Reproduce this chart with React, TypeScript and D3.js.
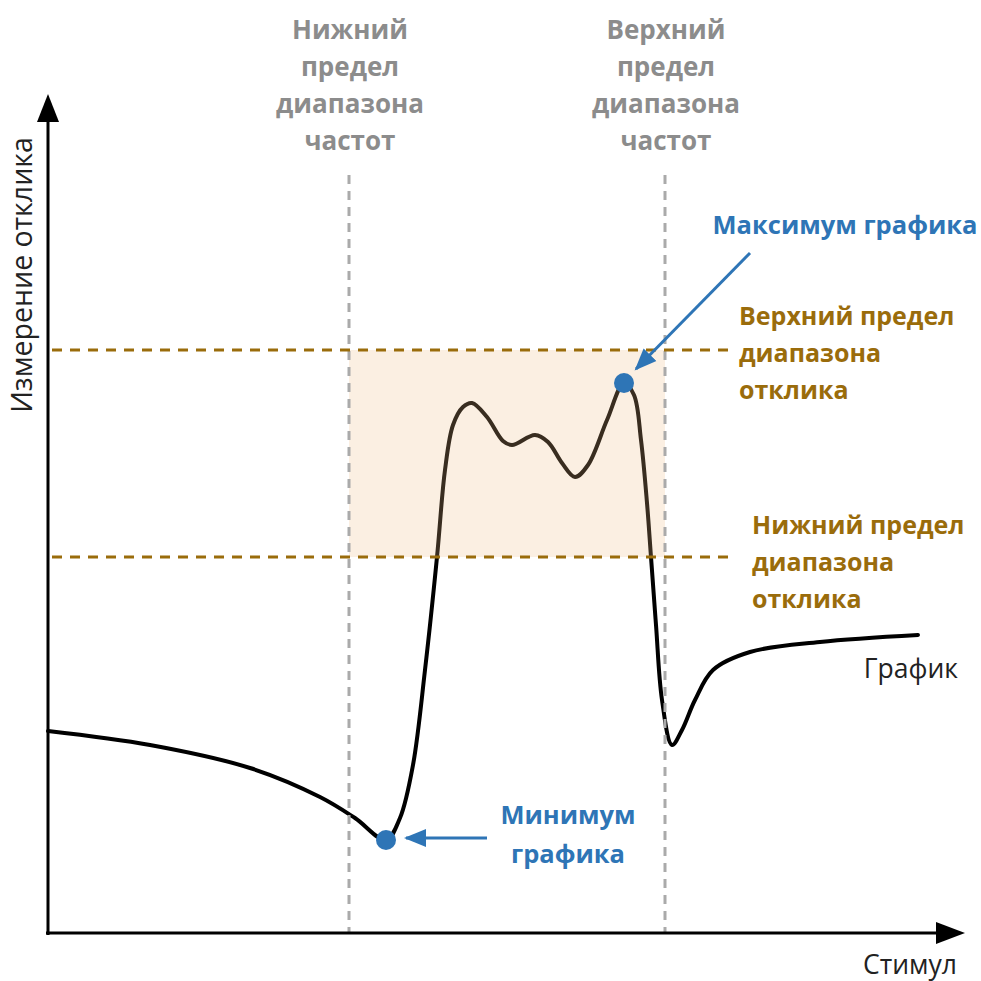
import * as d3 from 'd3'

// curve: stimulus / response (abstract units)
const stimulus = [0, 102, 202, 272, 307, 338, 352, 365, 377, 389, 397, 405, 415, 424, 439, 455, 464, 487, 500, 514, 527, 540, 559, 576, 586, 593, 599, 603, 608, 614, 624, 634, 647, 665, 702, 772, 870]
const response = [202, 188, 165, 136, 115, 93, 115, 168, 263, 376, 463, 508, 526, 530, 516, 492, 488, 498, 491, 470, 456, 468, 513, 550, 538, 493, 430, 376, 308, 233, 188, 203, 233, 263, 281, 291, 298]

const freqLimits = [301, 617]
const respLimits = [376, 583]
const minPoint = [338, 93]
const maxPoint = [576, 550]

const freqLabels = [
  ['Нижний', 'предел', 'диапазона', 'частот'],
  ['Верхний', 'предел', 'диапазона', 'частот'],
]
const respLabels = [
  ['Нижний предел', 'диапазона', 'отклика'],
  ['Верхний предел', 'диапазона', 'отклика'],
]

const W = 981
const H = 981
const x0 = 48
const yBase = 933

const BLUE = '#2e75b6'
const GOLD = '#9a6c0b'
const GREY = '#8c8c8c'
const FONT = "'Open Sans', 'Noto Sans', sans-serif"

export default function App() {
  const x = d3.scaleLinear().domain([0, 900]).range([x0, 948])
  const y = d3.scaleLinear().domain([0, 840]).range([yBase, 93])

  const pts = stimulus.map((s, i) => [x(s), y(response[i])] as [number, number])
  const line = d3.line().curve(d3.curveCatmullRom.alpha(0.5))

  const rx = x(freqLimits[0])
  const rw = x(freqLimits[1]) - rx
  const ry = y(respLimits[1])
  const rh = y(respLimits[0]) - ry

  return (
    <svg width={W} height={H} style={{ position: 'absolute', left: 0, top: 0, background: '#fff' }} fontFamily={FONT}>
      <defs>
        <marker id="blueHead" markerUnits="userSpaceOnUse" markerWidth={24} markerHeight={20} refX={20} refY={10} orient="auto">
          <path d="M0,1 L22,10 L0,19 Z" fill={BLUE} />
        </marker>
      </defs>

      {/* curve */}
      <path d={line(pts) || ''} fill="none" stroke="#000" strokeWidth={4} strokeLinecap="round" />

      {/* shaded window */}
      <rect x={rx} y={ry} width={rw} height={rh} fill="#eebe87" opacity={0.24} />

      {/* frequency limits */}
      {freqLimits.map((f, i) => (
        <line key={'v' + i} x1={x(f)} x2={x(f)} y1={175} y2={yBase} stroke="#aaa" strokeWidth={3} strokeDasharray="9,7" />
      ))}

      {/* response limits */}
      {respLimits.map((r, i) => (
        <line key={'h' + i} x1={x0 + 4} x2={730} y1={y(r)} y2={y(r)} stroke={GOLD} strokeWidth={3} strokeDasharray="10,8" />
      ))}

      {/* axes */}
      <line x1={x0} x2={x0} y1={yBase + 2} y2={110} stroke="#000" strokeWidth={3} />
      <path d={`M${x0 - 11},${122} L${x0},${94} L${x0 + 11},${122} Z`} fill="#000" />
      <line x1={x0 - 2} x2={945} y1={yBase} y2={yBase} stroke="#000" strokeWidth={3} />
      <path d={`M${936},${yBase - 11} L${965},${yBase} L${936},${yBase + 11} Z`} fill="#000" />

      <text transform={`translate(32,275) rotate(-90)`} textAnchor="middle" fontSize={28.5} fill="#222">Измерение отклика</text>
      <text x={957} y={974} textAnchor="end" fontSize={26.5} fill="#222">Стимул</text>
      <text x={958} y={678} textAnchor="end" fontSize={26.5} fill="#222">График</text>

      {/* frequency labels */}
      {freqLabels.map((lines, i) => (
        <text key={'fl' + i} x={x(freqLimits[i]) + 1} textAnchor="middle" fontSize={26} fontWeight="bold" fill={GREY}>
          {lines.map((t, j) => (
            <tspan key={j} x={x(freqLimits[i]) + 1} y={39 + j * 37}>{t}</tspan>
          ))}
        </text>
      ))}

      {/* response labels */}
      {respLabels.map((lines, i) => {
        const lx = i === 0 ? 752 : 739
        const ly = i === 0 ? 534 : 325
        return (
          <text key={'rl' + i} fontSize={25} fontWeight="bold" fill={GOLD}>
            {lines.map((t, j) => (
              <tspan key={j} x={lx} y={ly + j * 37}>{t}</tspan>
            ))}
          </text>
        )
      })}

      {/* extremes */}
      <line x1={750} y1={253} x2={x(maxPoint[0]) + 12} y2={y(maxPoint[1]) - 14} stroke={BLUE} strokeWidth={3} markerEnd="url(#blueHead)" />
      <line x1={487} y1={y(minPoint[1]) - 2} x2={x(minPoint[0]) + 20} y2={y(minPoint[1]) - 2} stroke={BLUE} strokeWidth={3} markerEnd="url(#blueHead)" />
      <circle cx={x(minPoint[0])} cy={y(minPoint[1])} r={10} fill={BLUE} />
      <circle cx={x(maxPoint[0])} cy={y(maxPoint[1])} r={10} fill={BLUE} />

      <text x={845} y={234} textAnchor="middle" fontSize={25.5} fontWeight="bold" fill={BLUE}>Максимум графика</text>
      <text textAnchor="middle" fontSize={25.5} fontWeight="bold" fill={BLUE}>
        <tspan x={568} y={824}>Минимум</tspan>
        <tspan x={568} y={863}>графика</tspan>
      </text>
    </svg>
  )
}
